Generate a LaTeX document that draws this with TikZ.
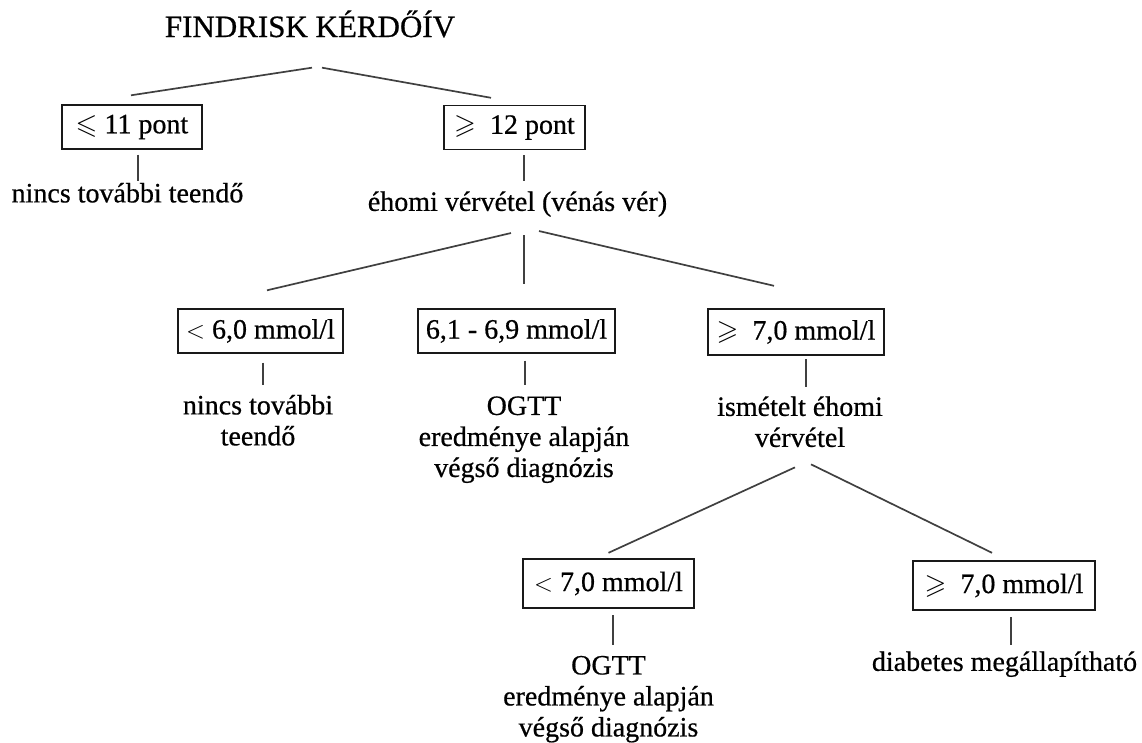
\documentclass[tikz,border=0pt]{standalone}
\usepackage{amsmath}
\usepackage{amssymb}
\usepackage{fontspec}
\setmainfont{Liberation Serif}[FakeBold=0.6]
\usepackage{tikz}
\usetikzlibrary{positioning}
\tikzstyle{kbox} = [draw=black!90, line width=1.4pt, minimum height=44pt, inner xsep=6pt, inner ysep=0pt, font=\fontsize{28}{31}\selectfont]
\tikzstyle{ktext} = [inner sep=0pt, align=center, font=\fontsize{28}{31}\selectfont]
\tikzstyle{kline} = [draw=black!75, line width=1.7pt]

\begin{document}
\begin{tikzpicture}[x=1pt, y=-1pt]
            \useasboundingbox (0,0) rectangle (1142,742);

            % kérdőív és pontszám
            \node[anchor=base, inner sep=0pt, font=\fontsize{31}{34}\selectfont] (title) at (310,37) {FINDRISK KÉRDŐÍV};
            \node[kbox, minimum width=140pt] (b11) at (132,127) {$\leqslant$ 11 pont};
            \node[kbox, minimum width=141pt] (b12) at (514.5,127.5) {$\geqslant$\ \ 12 pont};
            \node[ktext, below=33pt of b11, xshift=-4.5pt] (t11) {nincs további teendő};
            \node[ktext, below=41pt of b12, xshift=3pt] (t12) {éhomi vérvétel (vénás vér)};

            % éhomi vércukor
            \node[kbox, minimum width=165pt] (b60) at (260.5,331) {$<$ 6,0 mmol/l};
            \node[kbox, minimum width=197pt] (b61) at (516.5,331) {6,1 - 6,9 mmol/l};
            \node[kbox, minimum width=176pt, minimum height=46pt] (b70) at (796,332) {$\geqslant$\ \ 7,0 mmol/l};
            \node[ktext, below=41pt of b60, xshift=-2.5pt] (t60) {nincs további\\teendő};
            \node[ktext, below=42.5pt of b61, xshift=7.5pt] (t61) {OGTT\\eredménye alapján\\végső diagnózis};
            \node[ktext, below=40.5pt of b70, xshift=4pt] (t70) {ismételt éhomi\\vérvétel};

            % ismételt mérés
            \node[kbox, minimum width=171pt, minimum height=49pt] (c70) at (608.5,583.5) {$<$ 7,0 mmol/l};
            \node[kbox, minimum width=182pt, minimum height=49pt] (d70) at (1004,585.5) {$\geqslant$\ \ 7,0 mmol/l};
            \node[ktext, below=47pt of c70] (tc70) {OGTT\\eredménye alapján\\végső diagnózis};
            \node[ktext, below=40.5pt of d70, xshift=0.5pt] (td70) {diabetes megállapítható};

            % ágak
            \draw[kline] ([xshift=2pt,yshift=-30pt]title.south) -- ([xshift=-1pt,yshift=9pt]b11.north);
            \draw[kline] ([xshift=12pt,yshift=-30pt]title.south) -- ([xshift=-23.5pt,yshift=7pt]b12.north);
            \draw[kline, shorten <=5pt, shorten >=1.5pt] ([xshift=6pt]b11.south) -- ([xshift=6pt]b11.south |- t11.north);
            \draw[kline, shorten <=5pt, shorten >=10pt] ([xshift=9.5pt]b12.south) -- ([xshift=9.5pt]b12.south |- t12.north);

            \draw[kline] ([xshift=-6.5pt,yshift=-16pt]t12.south) -- ([xshift=6.5pt,yshift=18pt]b60.north);
            \draw[kline] ([xshift=6.5pt,yshift=-18pt]t12.south) -- ([xshift=7.5pt,yshift=24pt]b61.north);
            \draw[kline] ([xshift=21.5pt,yshift=-14pt]t12.south) -- ([xshift=-22pt,yshift=22.5pt]b70.north);
            \draw[kline, shorten <=9pt, shorten >=10pt] ([xshift=2.5pt]b60.south) -- ([xshift=2.5pt]b60.south |- t60.north);
            \draw[kline, shorten <=7pt, shorten >=11pt] ([xshift=8.5pt]b61.south) -- ([xshift=8.5pt]b61.south |- t61.north);
            \draw[kline, shorten <=3.5pt, shorten >=9pt] ([xshift=10pt]b70.south) -- ([xshift=10pt]b70.south |- t70.north);

            \draw[kline] ([xshift=-5pt,yshift=-20pt]t70.south) -- ([yshift=5.5pt]c70.north);
            \draw[kline] ([xshift=11pt,yshift=-17pt]t70.south) -- ([xshift=-12pt,yshift=7.5pt]d70.north);
            \draw[kline, shorten <=6.5pt, shorten >=10.5pt] ([xshift=4.5pt]c70.south) -- ([xshift=4.5pt]c70.south |- tc70.north);
            \draw[kline, shorten <=6.5pt, shorten >=6pt] ([xshift=7pt]d70.south) -- ([xshift=7pt]d70.south |- td70.north);
\end{tikzpicture}
\end{document}
